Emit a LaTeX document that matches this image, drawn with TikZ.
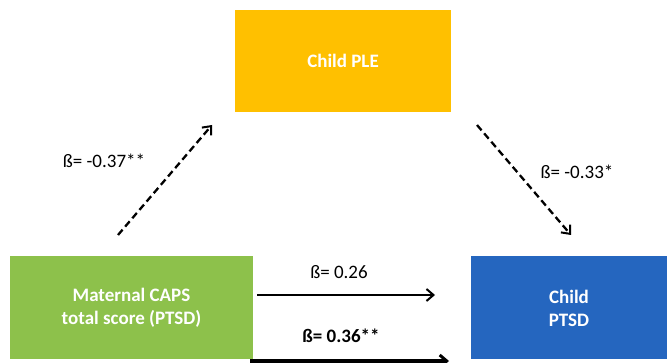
\documentclass[tikz,border=0pt]{standalone}
\usepackage{fontspec}
\setmainfont{Carlito}
\usetikzlibrary{arrows.meta}
\definecolor{cyellow}{HTML}{FFC000}
\definecolor{cgreen}{HTML}{8DC14B}
\definecolor{cblue}{HTML}{2566BF}
\begin{document}
\begin{tikzpicture}[x=1pt,y=-1pt,
  box/.style={inner sep=0pt, text=white, font=\fontsize{19}{23}\selectfont\bfseries, align=center},
  lbl/.style={font=\fontsize{19}{22}\selectfont, text=black},
  dasharrow/.style={draw=black, line width=2.3pt, dash pattern=on 7pt off 4pt, -{Straight Barb[length=7pt,width=12pt,line width=2pt]}},
  solidarrow/.style={draw=black, line width=2pt, -{Straight Barb[length=7pt,width=12pt,line width=2pt]}},
  boldarrow/.style={draw=black, line width=4.5pt, -{Straight Barb[length=7pt,width=12pt,line width=3pt]}}]
\useasboundingbox (0,0) rectangle (667,363);
\fill[white] (0,0) rectangle (667,363);
% boxes
\fill[cyellow] (235,10) rectangle (451,112);
\node[box] (ple) at (343,61) {Child PLE};
\fill[cgreen] (10,256) rectangle (253,359);
\node[box] (mat) at (131.5,308) {Maternal CAPS\\total score (PTSD)};
\fill[cblue] (471,256) rectangle (667,359);
\node[box] (cp) at (569,308) {Child\\PTSD};
% connector endpoints
\coordinate (a1s) at (118,235);
\coordinate (a1e) at (212,125);
\coordinate (a2s) at (477,125);
\coordinate (a2e) at (571,235);
\coordinate (a3s) at (257,295);
\coordinate (a3e) at (435,295);
\coordinate (a4s) at (250,361);
\coordinate (a4e) at (449,361);
\draw[dasharrow] (a1s) -- (a1e);
\draw[dasharrow] (a2s) -- (a2e);
\draw[solidarrow] (a3s) -- (a3e);
\draw[boldarrow] (a4s) -- (a4e);
% labels
\node[lbl] (l1) at (104,161) {ß= -0.37**};
\node[lbl] (l2) at (577,172) {ß= -0.33*};
\node[lbl] (l3) at (339,272) {ß= 0.26};
\node[lbl, font=\fontsize{19}{22}\selectfont\bfseries] (l4) at (341,336) {ß= 0.36**};
\end{tikzpicture}
\end{document}
